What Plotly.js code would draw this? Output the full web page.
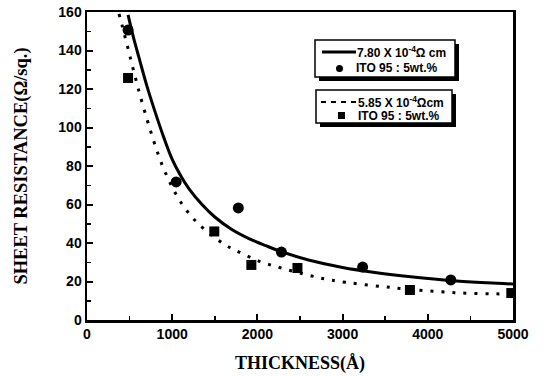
<!DOCTYPE html>
<html><head><meta charset="utf-8">
<script src="https://cdn.plot.ly/plotly-3.0.1.min.js"></script>
<style>body{margin:0;background:#fff}#c{width:548px;height:376px}</style>
</head><body><div id="c"></div>
<script>
// measured data: ITO 95:5 wt.% (circles)
const circleThickness = [482, 1047, 1776, 2282, 3235, 4270];
const circleResistance = [150.6, 71.7, 58.2, 35.3, 27.5, 20.8];
// measured data: ITO 95:5 wt.% (squares)
const squareThickness = [482, 1494, 1929, 2470, 3790, 4980];
const squareResistance = [125.7, 46.0, 28.6, 27.0, 15.6, 14.0];
// fit curve 7.80 x 10^-4 ohm cm (solid)
const fitSolidX = [482, 550, 612, 700, 800, 900, 1000, 1100, 1200, 1350, 1500, 1700, 1900, 2100, 2300, 2600, 3000, 3400, 3800, 4300, 4700, 5000];
const fitSolidY = [158.5, 146, 136, 122, 108, 95, 83.5, 75, 68, 60, 53.5, 47, 42.3, 38.6, 35.2, 31.2, 27.3, 24.6, 22.5, 20.4, 19.3, 18.7];
// fit curve 5.85 x 10^-4 ohm cm (dotted)
const fitDotX = [376, 412, 447, 482, 518, 553, 588, 624, 706, 765, 824, 882, 941, 1000, 1082, 1176, 1318, 1588, 1753, 2024, 2294, 2588, 2882, 3588, 4318, 4882, 5000];
const fitDotY = [159, 153, 147, 141, 134.5, 128.5, 122.5, 116.5, 104, 95.5, 87.5, 80.5, 74.5, 69, 62.5, 56.5, 49.5, 40, 36, 30.5, 26.8, 23.4, 20.6, 16.8, 14.2, 13.5, 13.3];
const xTicks = [0, 1000, 2000, 3000, 4000, 5000];
const yTicks = [0, 20, 40, 60, 80, 100, 120, 140, 160];
const legendLabels = ["7.80 X 10<sup>-4</sup>Ω cm", "ITO 95 : 5wt.%", "5.85 X 10<sup>-4</sup>Ωcm", "ITO 95 : 5wt.%"];

const W = 548, H = 376, L = 87, R = 513, T = 12, B = 320;
const px = v => (v - L) / (R - L);
const py = v => (B - v) / (B - T);

const traces = [
  {x: fitSolidX, y: fitSolidY, mode: 'lines', line: {color: '#000', width: 3, shape: 'spline', smoothing: 1}, hoverinfo: 'skip'},
  {x: fitDotX, y: fitDotY, mode: 'lines', line: {color: '#000', width: 3, dash: '3px,8px', shape: 'spline', smoothing: 1}, hoverinfo: 'skip'},
  {x: circleThickness, y: circleResistance, mode: 'markers', marker: {symbol: 'circle', size: 11, color: '#000'}},
  {x: squareThickness, y: squareResistance, mode: 'markers', marker: {symbol: 'square', size: 10, color: '#000'}}
];

const fontTick = {family: 'Liberation Sans, Arial, sans-serif', size: 14, color: '#000', weight: 'bold'};
const shapes = [];
const boxes = [[315, 40, 455, 77], [316, 90, 452, 123]];
boxes.forEach(b => {
  shapes.push({type: 'rect', xref: 'paper', yref: 'paper', x0: px(b[0] + 4), x1: px(b[2] + 4), y0: py(b[1] + 4), y1: py(b[3] + 4), fillcolor: '#000', line: {width: 0}});
  shapes.push({type: 'rect', xref: 'paper', yref: 'paper', x0: px(b[0]), x1: px(b[2]), y0: py(b[1]), y1: py(b[3]), fillcolor: '#fff', line: {color: '#000', width: 1.5}});
});
shapes.push({type: 'line', xref: 'paper', yref: 'paper', x0: px(322), x1: px(356), y0: py(52), y1: py(52), line: {color: '#000', width: 3}});
shapes.push({type: 'line', xref: 'paper', yref: 'paper', x0: px(321), x1: px(356), y0: py(102), y1: py(102), line: {color: '#000', width: 2, dash: '5px,5px'}});
shapes.push({type: 'circle', xref: 'paper', yref: 'paper', x0: px(336), x1: px(343), y0: py(65), y1: py(72), fillcolor: '#000', line: {width: 0}});
shapes.push({type: 'rect', xref: 'paper', yref: 'paper', x0: px(338), x1: px(345), y0: py(112), y1: py(119), fillcolor: '#000', line: {width: 0}});

const legFont = {family: 'Liberation Sans, Arial, sans-serif', size: 12, color: '#000', weight: 'bold'};
const annotations = [
  {text: legendLabels[0], x: px(355), y: py(52), xanchor: 'left', yanchor: 'middle'},
  {text: legendLabels[1], x: px(354), y: py(68), xanchor: 'left', yanchor: 'middle'},
  {text: legendLabels[2], x: px(356), y: py(102), xanchor: 'left', yanchor: 'middle'},
  {text: legendLabels[3], x: px(356), y: py(116), xanchor: 'left', yanchor: 'middle'}
].map(a => Object.assign(a, {xref: 'paper', yref: 'paper', showarrow: false, font: legFont}));

const layout = {
  width: W, height: H,
  margin: {l: L, r: W - R, t: T, b: H - B},
  paper_bgcolor: '#fff', plot_bgcolor: '#fff',
  showlegend: false,
  xaxis: {
    range: [0, 5000], tickvals: xTicks, ticktext: xTicks.map(String),
    ticks: 'inside', ticklen: 6, tickwidth: 2, tickcolor: '#000',
    minor: {dtick: 500, ticks: 'inside', ticklen: 4, tickwidth: 1.5, tickcolor: '#000'},
    showline: true, linecolor: '#000', linewidth: 2.5, mirror: true,
    showgrid: false, zeroline: false, tickfont: fontTick,
    title: {text: 'THICKNESS(Å)', font: {family: 'Liberation Serif, Times New Roman, serif', size: 18, color: '#000', weight: 'bold'}, standoff: 15}
  },
  yaxis: {
    range: [0, 160], tickvals: yTicks, ticktext: yTicks.map(String),
    ticks: 'inside', ticklen: 6, tickwidth: 2, tickcolor: '#000',
    minor: {dtick: 10, ticks: 'inside', ticklen: 4, tickwidth: 1.5, tickcolor: '#000'},
    showline: true, linecolor: '#000', linewidth: 2.5, mirror: true,
    showgrid: false, zeroline: false, tickfont: fontTick,
    title: {text: 'SHEET RESISTANCE(Ω/sq.)', font: {family: 'Liberation Serif, Times New Roman, serif', size: 18.5, color: '#000', weight: 'bold'}, standoff: 26}
  },
  shapes: shapes,
  annotations: annotations
};
Plotly.newPlot('c', traces, layout, {staticPlot: true});
</script>
</body></html>
